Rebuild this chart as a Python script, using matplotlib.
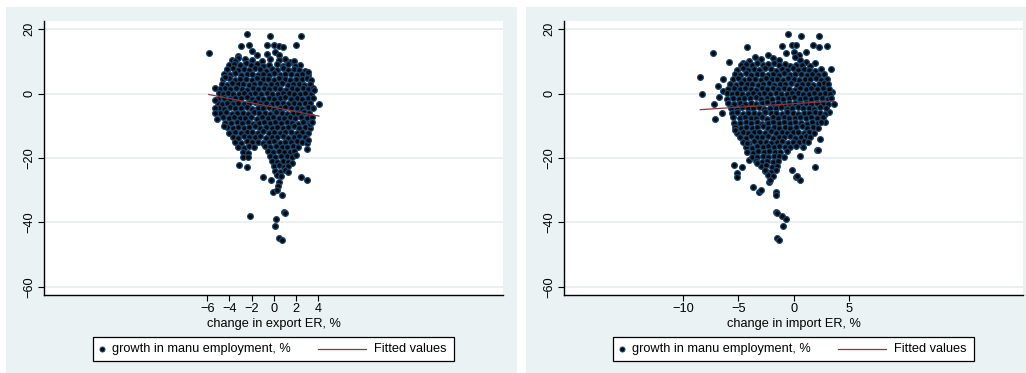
import matplotlib
matplotlib.use("Agg")
import matplotlib.pyplot as plt
from matplotlib.patches import Rectangle
from matplotlib.lines import Line2D

plt.rcParams['font.family'] = ['Liberation Sans', 'DejaVu Sans']

# ---------------- data ----------------
y_label_series = "growth in manu employment, %"
fit_label = "Fitted values"
x_label_export = "change in export ER, %"
x_label_import = "change in import ER, %"

y_ticks = [20, 0, -20, -40, -60]
x_ticks_export = [-6, -4, -2, 0, 2, 4]
x_ticks_import = [-10, -5, 0, 5]

export_points = [
    # scattered upper points
    (-5.85, 12.6), (-2.42, 18.5), (-0.35, 17.9), (2.47, 17.9), (2.02, 15.2), (-2.27, 14.9),
    (-2.96, 14.6), (-0.65, 14.9), (0.01, 15.2), (0.49, 14.8), (0.79, 14.3), (-0.59, 12.4),
    (0.1, 13.0), (0.43, 12.0), (-1.55, 11.9), (-1.95, 13.3), (-3.8, 10.4), (-3.2, 11.6),
    (-3.25, 11.1), (1.0, 10.6), (1.45, 9.9), (2.35, 8.8), (-2.6, 10.8), (-2.0, 10.5),
    (-1.1, 10.2), (-0.3, 10.8), (0.5, 10.4), (1.8, 10.0), (-3.5, 10.0),
    # y ~ 9
    (-4.0, 8.8), (-3.55, 9.3), (-3.05, 9.0), (-2.5, 9.6), (-2.05, 8.9), (-1.5, 9.3), (-1.0, 8.6),
    (-0.45, 9.0), (0.3, 9.2), (0.8, 8.6), (1.3, 9.1), (1.9, 8.5),
    # y ~ 7.5
    (-4.2, 7.3), (-3.7, 7.8), (-3.2, 7.4), (-2.7, 7.6), (-2.2, 7.2), (-1.7, 7.9), (-1.2, 7.5),
    (-0.7, 7.1), (-0.2, 7.7), (0.3, 7.4), (0.8, 7.8), (1.3, 7.2), (1.8, 7.6), (2.3, 7.3), (2.85, 7.1),
    # y ~ 6
    (-4.45, 6.1), (-3.95, 5.8), (-3.45, 6.3), (-2.95, 5.9), (-2.45, 6.0), (-1.95, 6.2), (-1.45, 5.7),
    (-0.95, 6.1), (-0.45, 5.9), (0.05, 6.3), (0.55, 5.8), (1.05, 6.0), (1.55, 6.2), (2.05, 5.7),
    (2.55, 6.0), (3.1, 5.9),
    # y ~ 4.5
    (-4.55, 4.4), (-4.05, 4.7), (-3.5, 4.3), (-3.0, 4.6), (-2.5, 4.5), (-2.0, 4.2), (-1.5, 4.8),
    (-1.0, 4.4), (-0.5, 4.6), (0.0, 4.3), (0.5, 4.7), (1.0, 4.5), (1.5, 4.2), (2.0, 4.6), (2.5, 4.4),
    (3.0, 4.7), (3.35, 4.3),
    # y ~ 3
    (-4.7, 3.0), (-4.25, 2.8), (-3.75, 3.2), (-3.25, 2.9), (-2.75, 3.1), (-2.25, 2.7), (-1.75, 3.0),
    (-1.25, 3.3), (-0.75, 2.8), (-0.25, 3.1), (0.25, 2.9), (0.75, 3.2), (1.25, 2.7), (1.75, 3.0),
    (2.25, 3.1), (2.75, 2.8), (3.25, 3.0),
    # y ~ 1.5
    (-4.85, 1.4), (-4.4, 1.7), (-3.9, 1.3), (-3.4, 1.6), (-2.9, 1.5), (-2.4, 1.2), (-1.9, 1.8),
    (-1.4, 1.4), (-0.9, 1.6), (-0.4, 1.3), (0.1, 1.7), (0.6, 1.5), (1.1, 1.2), (1.6, 1.6), (2.1, 1.4),
    (2.6, 1.7), (3.1, 1.3), (3.5, 1.6),
    # y ~ 0
    (-4.95, 0.1), (-4.6, -0.2), (-4.15, 0.2), (-3.65, -0.1), (-3.15, 0.0), (-2.65, 0.3), (-2.15, -0.3),
    (-1.65, 0.1), (-1.15, -0.1), (-0.65, 0.2), (-0.15, 0.0), (0.35, -0.2), (0.85, 0.1), (1.35, 0.3),
    (1.85, -0.1), (2.35, 0.0), (2.85, 0.2), (3.35, -0.2),
    # y ~ -1.5
    (-5.0, -1.6), (-4.45, -1.3), (-3.95, -1.7), (-3.45, -1.4), (-2.95, -1.5), (-2.45, -1.2),
    (-1.95, -1.8), (-1.45, -1.4), (-0.95, -1.6), (-0.45, -1.3), (0.05, -1.7), (0.55, -1.5),
    (1.05, -1.2), (1.55, -1.6), (2.05, -1.4), (2.55, -1.7), (3.05, -1.3), (3.55, -1.5),
    # y ~ -3
    (-5.05, -3.0), (-4.7, -3.2), (-4.2, -2.8), (-3.7, -3.1), (-3.2, -2.9), (-2.7, -3.3), (-2.2, -3.0),
    (-1.7, -2.7), (-1.2, -3.2), (-0.7, -2.9), (-0.2, -3.1), (0.3, -2.8), (0.8, -3.0), (1.3, -3.3),
    (1.8, -2.9), (2.3, -3.1), (2.8, -2.8), (3.3, -3.0),
    # y ~ -4.5
    (-4.95, -4.4), (-4.45, -4.7), (-3.95, -4.3), (-3.45, -4.6), (-2.95, -4.5), (-2.45, -4.2),
    (-1.95, -4.8), (-1.45, -4.4), (-0.95, -4.6), (-0.45, -4.3), (0.05, -4.7), (0.55, -4.5),
    (1.05, -4.2), (1.55, -4.6), (2.05, -4.4), (2.55, -4.7), (3.05, -4.3), (3.55, -4.6),
    # y ~ -6
    (-4.8, -6.1), (-4.3, -5.8), (-3.8, -6.2), (-3.3, -5.9), (-2.8, -6.0), (-2.3, -6.3), (-1.8, -5.7),
    (-1.3, -6.1), (-0.8, -5.9), (-0.3, -6.2), (0.2, -5.8), (0.7, -6.0), (1.2, -6.3), (1.7, -5.9),
    (2.2, -6.1), (2.7, -5.8), (3.2, -6.0),
    # y ~ -7.5
    (-4.6, -7.4), (-4.05, -7.7), (-3.55, -7.3), (-3.05, -7.6), (-2.55, -7.5), (-2.05, -7.2),
    (-1.55, -7.8), (-1.05, -7.4), (-0.55, -7.6), (-0.05, -7.3), (0.45, -7.7), (0.95, -7.5),
    (1.45, -7.2), (1.95, -7.6), (2.45, -7.4), (2.95, -7.7), (3.4, -7.3),
    # y ~ -9
    (-4.4, -9.0), (-3.85, -9.2), (-3.35, -8.8), (-2.85, -9.1), (-2.35, -8.9), (-1.85, -9.3),
    (-1.35, -9.0), (-0.85, -8.7), (-0.35, -9.2), (0.15, -8.9), (0.65, -9.1), (1.15, -8.8),
    (1.65, -9.0), (2.15, -9.3), (2.65, -8.9), (3.15, -9.1),
    # y ~ -10.5
    (-4.2, -10.4), (-3.7, -10.7), (-3.2, -10.3), (-2.7, -10.6), (-2.2, -10.5), (-1.7, -10.2),
    (-1.2, -10.8), (-0.7, -10.4), (-0.2, -10.6), (0.3, -10.3), (0.8, -10.7), (1.3, -10.5),
    (1.8, -10.2), (2.3, -10.6), (2.8, -10.4), (3.25, -10.7),
    # y ~ -12
    (-4.0, -12.1), (-3.45, -11.8), (-2.95, -12.2), (-2.45, -11.9), (-1.95, -12.0), (-1.45, -12.3),
    (-0.95, -11.7), (-0.45, -12.1), (0.05, -11.9), (0.55, -12.2), (1.05, -11.8), (1.55, -12.0),
    (2.05, -12.3), (2.55, -11.9), (3.05, -12.1),
    # y ~ -13.5
    (-3.7, -13.4), (-3.2, -13.7), (-2.7, -13.3), (-2.2, -13.6), (-1.7, -13.5), (-1.2, -13.2),
    (-0.7, -13.8), (-0.2, -13.4), (0.3, -13.6), (0.8, -13.3), (1.3, -13.7), (1.8, -13.5),
    (2.3, -13.2), (2.8, -13.6),
    # y ~ -15
    (-3.45, -15.0), (-2.95, -15.2), (-2.45, -14.8), (-1.95, -15.1), (-1.45, -14.9), (-0.95, -15.3),
    (-0.45, -15.0), (0.05, -14.7), (0.55, -15.2), (1.05, -14.9), (1.55, -15.1), (2.05, -14.8),
    (2.5, -15.0), (3.0, -15.3),
    # y ~ -16.5
    (-3.2, -16.5), (-2.7, -16.8), (-2.2, -16.3), (-1.8, -16.6), (-0.8, -16.4), (-0.3, -16.7),
    (0.2, -16.3), (0.7, -16.6), (1.2, -16.5), (1.7, -16.2), (2.2, -16.7),
    # y ~ -18 and below
    (-2.8, -18.0), (-2.3, -18.3), (-0.55, -17.8), (-0.05, -18.1), (0.45, -17.9), (0.95, -18.2),
    (1.45, -18.0), (1.85, -17.8),
    (-2.75, -19.6), (-2.3, -19.8), (-0.35, -19.4), (0.15, -19.7), (0.65, -19.5), (1.15, -19.3),
    (1.6, -19.7),
    (-0.2, -21.0), (0.3, -21.3), (0.8, -20.9), (1.3, -21.2), (1.6, -21.6),
    (0.0, -22.6), (0.45, -22.3), (0.9, -22.7), (1.3, -22.4),
    (0.1, -24.0), (0.55, -24.3), (1.0, -23.8), (1.3, -24.2),
    (0.25, -25.4), (0.65, -25.7),
    # edges and lower outliers
    (-5.3, 1.8), (-5.3, -2.0), (-5.3, -4.6), (-5.3, -6.0), (-5.1, -7.9), (-4.5, -10.0),
    (-4.2, 7.6), (-4.4, 5.2), (4.06, -3.4), (3.1, 6.8), (3.3, -9.6), (3.1, -14.4),
    (3.0, -17.3), (2.0, -19.0), (3.65, 1.1), (3.4, -8.7),
    (-3.17, -22.2), (-2.45, -22.9), (-0.95, -26.0), (-0.29, -26.8), (2.41, -26.0), (2.95, -26.8),
    (0.5, -27.3), (0.35, -28.6), (-0.11, -30.4), (0.25, -30.0), (0.73, -31.5),
    (-2.15, -38.0), (0.91, -36.6), (1.0, -37.2), (0.22, -38.9), (0.1, -41.0),
    (0.49, -44.7), (0.73, -45.4),
]

import_points = [
    # scattered outer points
    (-8.44, 5.0), (-8.26, -0.05), (-7.29, 12.65), (-7.2, -3.35), (-7.1, -7.9), (-6.8, 2.3),
    (-6.75, -1.0), (-6.4, 4.5), (-6.4, 0.9), (-6.5, -6.0), (-5.85, 9.9), (-4.2, 14.5),
    (-0.5, 18.45), (0.66, 17.9), (2.3, 17.9), (1.75, 15.2), (2.3, 14.3), (3.0, 14.8),
    (-1.1, 14.8), (-0.2, 14.9), (0.2, 15.2), (0.0, 13.0), (-0.7, 12.45), (0.5, 11.9),
    (1.14, 13.0), (1.14, 9.9), (1.95, 9.4), (3.4, 7.5), (3.46, 0.4), (3.6, -3.35),
    (3.2, -5.6), (2.85, -8.7), (2.9, 3.9), (2.35, -14.2), (2.1, -17.5), (1.95, -22.7),
    (0.6, -19.4), (-0.2, -23.8), (0.23, -25.8), (0.55, -26.8),
    (-5.42, -22.2), (-5.1, -24.6), (-5.1, -26.0), (-4.64, -22.9), (-4.04, -20.6),
    (-3.68, -28.9), (-3.1, -30.4), (-2.95, -29.9), (-2.2, -27.6), (-1.63, -30.4),
    (-1.63, -31.5), (-1.57, -36.6), (-1.5, -37.1), (-1.03, -38.0), (-0.72, -38.9),
    (-0.97, -41.0), (-1.48, -44.7), (-1.33, -45.4),
    (-3.5, 11.4), (-3.0, 10.6), (-2.3, 11.9), (-1.85, 10.9), (-1.3, 10.4), (0.12, 11.4),
    (0.57, 10.3), (-4.6, 9.6), (-4.0, 10.2),
    # y ~ 9
    (-4.8, 8.7), (-4.3, 9.2), (-3.8, 8.9), (-3.3, 9.4), (-2.8, 8.8), (-2.3, 9.1), (-1.8, 9.5),
    (-1.3, 8.8), (-0.8, 9.2), (-0.3, 8.6), (0.2, 9.0), (0.7, 8.9), (1.5, 8.5),
    # y ~ 7.5
    (-5.1, 7.3), (-4.6, 7.8), (-4.1, 7.4), (-3.6, 7.6), (-3.1, 7.2), (-2.6, 7.9), (-2.1, 7.5),
    (-1.6, 7.1), (-1.1, 7.7), (-0.6, 7.4), (-0.1, 7.8), (0.4, 7.2), (0.9, 7.6), (1.4, 7.3),
    (1.9, 7.1), (2.5, 7.5),
    # y ~ 6
    (-5.35, 6.1), (-4.85, 5.8), (-4.35, 6.3), (-3.85, 5.9), (-3.35, 6.0), (-2.85, 6.2), (-2.35, 5.7),
    (-1.85, 6.1), (-1.35, 5.9), (-0.85, 6.3), (-0.35, 5.8), (0.15, 6.0), (0.65, 6.2), (1.15, 5.7),
    (1.65, 6.0), (2.15, 5.9), (2.75, 6.1),
    # y ~ 4.5
    (-5.5, 4.4), (-5.0, 4.7), (-4.5, 4.3), (-4.0, 4.6), (-3.5, 4.5), (-3.0, 4.2), (-2.5, 4.8),
    (-2.0, 4.4), (-1.5, 4.6), (-1.0, 4.3), (-0.5, 4.7), (0.0, 4.5), (0.5, 4.2), (1.0, 4.6),
    (1.5, 4.4), (2.0, 4.7), (2.5, 4.3), (3.0, 4.5),
    # y ~ 3
    (-5.75, 3.0), (-5.25, 2.8), (-4.75, 3.2), (-4.25, 2.9), (-3.75, 3.1), (-3.25, 2.7), (-2.75, 3.0),
    (-2.25, 3.3), (-1.75, 2.8), (-1.25, 3.1), (-0.75, 2.9), (-0.25, 3.2), (0.25, 2.7), (0.75, 3.0),
    (1.25, 3.1), (1.75, 2.8), (2.25, 3.0), (2.75, 3.2), (3.1, 2.9),
    # y ~ 1.5
    (-5.9, 1.4), (-5.4, 1.7), (-4.9, 1.3), (-4.4, 1.6), (-3.9, 1.5), (-3.4, 1.2), (-2.9, 1.8),
    (-2.4, 1.4), (-1.9, 1.6), (-1.4, 1.3), (-0.9, 1.7), (-0.4, 1.5), (0.1, 1.2), (0.6, 1.6),
    (1.1, 1.4), (1.6, 1.7), (2.1, 1.3), (2.6, 1.6), (3.15, 1.5),
    # y ~ 0
    (-6.05, 0.1), (-5.6, -0.2), (-5.15, 0.2), (-4.65, -0.1), (-4.15, 0.0), (-3.65, 0.3), (-3.15, -0.3),
    (-2.65, 0.1), (-2.15, -0.1), (-1.65, 0.2), (-1.15, 0.0), (-0.65, -0.2), (-0.15, 0.1), (0.35, 0.3),
    (0.85, -0.1), (1.35, 0.0), (1.85, 0.2), (2.35, -0.2), (2.85, 0.1), (3.3, -0.1),
    # y ~ -1.5
    (-6.0, -1.6), (-5.45, -1.3), (-4.95, -1.7), (-4.45, -1.4), (-3.95, -1.5), (-3.45, -1.2),
    (-2.95, -1.8), (-2.45, -1.4), (-1.95, -1.6), (-1.45, -1.3), (-0.95, -1.7), (-0.45, -1.5),
    (0.05, -1.2), (0.55, -1.6), (1.05, -1.4), (1.55, -1.7), (2.05, -1.3), (2.55, -1.5),
    (3.05, -1.6), (3.35, -1.4),
    # y ~ -3
    (-5.9, -3.0), (-5.4, -3.2), (-4.9, -2.8), (-4.4, -3.1), (-3.9, -2.9), (-3.4, -3.3), (-2.9, -3.0),
    (-2.4, -2.7), (-1.9, -3.2), (-1.4, -2.9), (-0.9, -3.1), (-0.4, -2.8), (0.1, -3.0), (0.6, -3.3),
    (1.1, -2.9), (1.6, -3.1), (2.1, -2.8), (2.6, -3.0), (3.1, -3.2),
    # y ~ -4.5
    (-5.7, -4.4), (-5.15, -4.7), (-4.65, -4.3), (-4.15, -4.6), (-3.65, -4.5), (-3.15, -4.2),
    (-2.65, -4.8), (-2.15, -4.4), (-1.65, -4.6), (-1.15, -4.3), (-0.65, -4.7), (-0.15, -4.5),
    (0.35, -4.2), (0.85, -4.6), (1.35, -4.4), (1.85, -4.7), (2.35, -4.3), (2.9, -4.6),
    # y ~ -6
    (-5.6, -6.1), (-5.1, -5.8), (-4.6, -6.2), (-4.1, -5.9), (-3.6, -6.0), (-3.1, -6.3), (-2.6, -5.7),
    (-2.1, -6.1), (-1.6, -5.9), (-1.1, -6.2), (-0.6, -5.8), (-0.1, -6.0), (0.4, -6.3), (0.9, -5.9),
    (1.4, -6.1), (1.9, -5.8), (2.4, -6.0), (2.8, -6.2),
    # y ~ -7.5
    (-5.5, -7.4), (-4.9, -7.7), (-4.4, -7.3), (-3.9, -7.6), (-3.4, -7.5), (-2.9, -7.2), (-2.4, -7.8),
    (-1.9, -7.4), (-1.4, -7.6), (-0.9, -7.3), (-0.4, -7.7), (0.1, -7.5), (0.6, -7.2), (1.1, -7.6),
    (1.6, -7.4), (2.1, -7.7), (2.65, -7.3),
    # y ~ -9
    (-5.4, -9.0), (-4.85, -9.2), (-4.35, -8.8), (-3.85, -9.1), (-3.35, -8.9), (-2.85, -9.3),
    (-2.35, -9.0), (-1.85, -8.7), (-1.35, -9.2), (-0.85, -8.9), (-0.35, -9.1), (0.15, -8.8),
    (0.65, -9.0), (1.15, -9.3), (1.65, -8.9), (2.15, -9.1), (2.5, -8.8),
    # y ~ -10.5
    (-5.3, -10.4), (-4.8, -10.7), (-4.3, -10.3), (-3.8, -10.6), (-3.3, -10.5), (-2.8, -10.2),
    (-2.3, -10.8), (-1.8, -10.4), (-1.3, -10.6), (-0.8, -10.3), (-0.3, -10.7), (0.2, -10.5),
    (0.7, -10.2), (1.2, -10.6), (1.7, -10.4), (2.2, -10.7),
    # y ~ -12
    (-5.15, -12.1), (-4.6, -11.8), (-4.1, -12.2), (-3.6, -11.9), (-3.1, -12.0), (-2.6, -12.3),
    (-2.1, -11.7), (-1.6, -12.1), (-1.1, -11.9), (-0.6, -12.2), (-0.1, -11.8), (0.4, -12.0),
    (0.9, -12.3), (1.4, -11.9), (1.85, -12.1),
    # y ~ -13.5
    (-4.85, -13.4), (-4.35, -13.7), (-3.85, -13.3), (-3.35, -13.6), (-2.85, -13.5), (-2.35, -13.2),
    (-1.85, -13.8), (-1.35, -13.4), (-0.85, -13.6), (-0.35, -13.3), (0.15, -13.7), (0.65, -13.5),
    (1.1, -13.2), (1.5, -13.6),
    # y ~ -15
    (-4.55, -15.0), (-4.05, -15.2), (-3.55, -14.8), (-3.05, -15.1), (-2.55, -14.9), (-2.05, -15.3),
    (-1.55, -15.0), (-1.05, -14.7), (-0.55, -15.2), (-0.05, -14.9), (0.45, -15.1), (0.95, -14.8),
    (1.3, -15.0),
    # y ~ -16.5 and below
    (-4.3, -16.5), (-3.8, -16.8), (-3.3, -16.3), (-2.8, -16.6), (-2.3, -16.4), (-1.8, -16.7),
    (-1.3, -16.3), (-0.8, -16.6), (-0.3, -16.5), (0.2, -16.2), (0.8, -16.7),
    (-4.2, -18.0), (-3.7, -18.3), (-3.2, -17.8), (-2.7, -18.1), (-2.2, -17.9), (-1.7, -18.2),
    (-1.2, -18.0), (-0.6, -17.8),
    (-3.8, -19.6), (-3.3, -19.8), (-2.8, -19.4), (-2.3, -19.7), (-1.8, -19.5), (-1.3, -19.3),
    (-0.9, -19.7),
    (-3.4, -21.0), (-2.9, -21.3), (-2.4, -20.9), (-1.9, -21.2), (-1.4, -21.0),
    (-3.0, -22.6), (-2.5, -22.3), (-2.0, -22.7), (-1.55, -22.4),
    (-2.6, -24.0), (-2.1, -24.3), (-1.65, -23.8),
    (-2.35, -25.4), (-1.85, -25.7),
    (-4.25, -15.4), (-3.34, -21.6), (-2.6, -23.7), (-2.14, -26.8), (2.22, -17.5),
    (0.27, -25.5), (-5.3, -11.3),
]

fit_export_x = [-5.85, 4.07]
fit_export_y = [-0.3, -7.0]
fit_import_x = [-8.44, 3.62]
fit_import_y = [-5.0, -2.35]

# ---------------- styling ----------------
W, H = 1026, 373
BG = '#eaf2f3'
NAVY = '#1a476f'
MAROON = '#90353b'
FS = 9.2

fig = plt.figure(figsize=(W / 100, H / 100), dpi=100)
fig.patch.set_facecolor('white')

def fx(px):
    return px / W

def fy(py):
    return 1 - py / H

# panel backgrounds
fig.add_artist(Rectangle((fx(6), 0), fx(517) - fx(6), fy(7), transform=fig.transFigure,
                         facecolor=BG, edgecolor='none', zorder=0))
fig.add_artist(Rectangle((fx(526), 0), fx(1026) - fx(526), fy(7), transform=fig.transFigure,
                         facecolor=BG, edgecolor='none', zorder=0))


def make_panel(left_px, pts, fit_x, fit_y, xticks, xlim, xlabel):
    ax = fig.add_axes([fx(left_px), fy(295), fx(459), 274 / H])
    ax.set_facecolor('white')
    xs = [p[0] for p in pts]
    ys = [p[1] for p in pts]
    ax.scatter(xs, ys, s=17, facecolor='#05070d', edgecolor=NAVY, linewidths=0.9, zorder=3)
    ax.plot(fit_x, fit_y, color=MAROON, lw=0.9, zorder=4)
    ax.set_xlim(*xlim)
    ax.set_ylim(-62.5, 22.5)
    ax.set_yticks(y_ticks)
    ax.set_yticklabels([str(v).replace('-', '\u2212') for v in y_ticks], rotation=90, va='center',
                       fontsize=FS)
    ax.set_xticks(xticks)
    ax.set_xticklabels([str(v).replace('-', '\u2212') for v in xticks], fontsize=FS)
    ax.grid(axis='y', color='#e6eef0', lw=1.2, zorder=1)
    ax.set_axisbelow(True)
    for s in ['top', 'right']:
        ax.spines[s].set_visible(False)
    for s in ['left', 'bottom']:
        ax.spines[s].set_linewidth(1.0)
        ax.spines[s].set_color('black')
    ax.tick_params(axis='both', direction='out', length=4, width=0.8, color='black',
                   labelcolor='black')
    ax.tick_params(axis='y', pad=2)
    ax.tick_params(axis='x', pad=2)
    ax.set_xlabel(xlabel, fontsize=FS, labelpad=2)
    return ax


ax1 = make_panel(44, export_points, fit_export_x, fit_export_y, x_ticks_export,
                 (-20.7, 20.65), x_label_export)
ax2 = make_panel(564, import_points, fit_import_x, fit_import_y, x_ticks_import,
                 (-20.75, 20.7), x_label_import)


def draw_legend(box_left):
    off = box_left - 93
    fig.add_artist(Rectangle((fx(93 + off), fy(361)), fx(361), 24 / H, transform=fig.transFigure,
                             facecolor='white', edgecolor='black', lw=0.9, zorder=5))
    fig.add_artist(Line2D([fx(102 + off)], [fy(349)], transform=fig.transFigure, marker='o',
                          markersize=3.6, markerfacecolor='#05070d', markeredgecolor=NAVY,
                          markeredgewidth=0.7, linestyle='none', zorder=6))
    fig.text(fx(112 + off), fy(349), y_label_series, fontsize=FS, va='center', ha='left', zorder=6)
    fig.add_artist(Line2D([fx(318 + off), fx(366 + off)], [fy(349), fy(349)],
                          transform=fig.transFigure, color=MAROON, lw=0.9, zorder=6))
    fig.text(fx(374 + off), fy(349), fit_label, fontsize=FS, va='center', ha='left', zorder=6)


draw_legend(93)
draw_legend(613)

fig.savefig('out.png', dpi=100)
